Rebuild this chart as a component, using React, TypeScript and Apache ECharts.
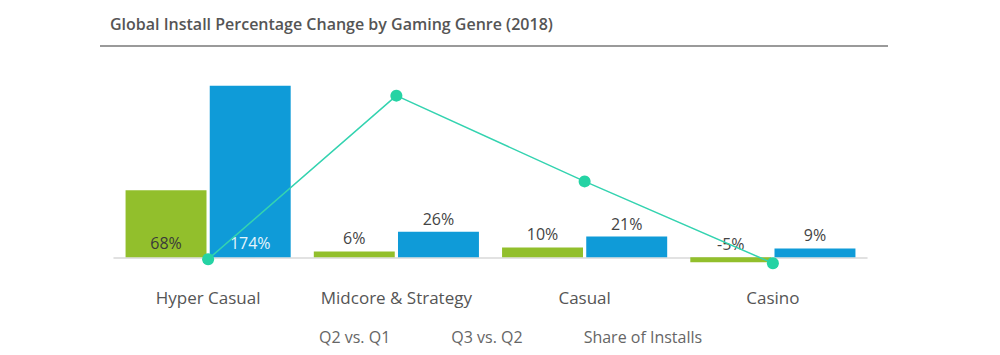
import React, { useEffect, useRef } from "react";
import * as echarts from "echarts";

const categories = ["Hyper Casual", "Midcore & Strategy", "Casual", "Casino"];
const q2VsQ1 = [68, 6, 10, -5];
const q3VsQ2 = [174, 26, 21, 9];
const shareOfInstalls = [-2, 164, 77, -6];
const seriesNames = ["Q2 vs. Q1", "Q3 vs. Q2", "Share of Installs"];
const titleText = "Global Install Percentage Change by Gaming Genre (2018)";

export default function App() {
  const ref = useRef<HTMLDivElement>(null);
  useEffect(() => {
    if (!ref.current) return;
    const chart = echarts.init(ref.current, undefined, { renderer: "svg" });
    const font = "'Open Sans', 'Noto Sans', sans-serif";
    const labelStyle = { fontFamily: font, fontSize: 16, color: "#444" };
    chart.setOption({
      animation: false,
      textStyle: { fontFamily: font },
      title: {
        text: titleText,
        left: 97,
        top: 3,
        textStyle: { fontFamily: font, fontSize: 16, fontWeight: 600, color: "#555" },
      },
      graphic: [
        {
          type: "line",
          shape: { x1: 92, y1: 38, x2: 880, y2: 38 },
          style: { stroke: "#9a9a9a", lineWidth: 2 },
        },
      ],
      legend: {
        data: seriesNames.map((n) => ({ name: n, icon: "none" })),
        top: 316,
        left: 301,
        itemGap: 56,
        itemWidth: 0,
        itemHeight: 0,
        textStyle: { fontFamily: font, fontSize: 16, color: "#666" },
      },
      grid: { left: 106, right: 125, top: 64, bottom: 78 },
      xAxis: {
        type: "category",
        data: categories,
        axisLine: { onZero: true, lineStyle: { color: "#d8d8d8", width: 1.5 } },
        axisTick: { show: false },
        axisLabel: { interval: 0, margin: 12, fontFamily: font, fontSize: 17, color: "#555" },
      },
      yAxis: [
        { type: "value", min: -20, max: 188, show: false, splitLine: { show: false } },
        { type: "value", min: -20, max: 188, show: false, splitLine: { show: false } },
      ],
      series: [
        {
          name: seriesNames[0],
          type: "bar",
          data: q2VsQ1.map((v, i) =>
            i === 0
              ? { value: v, label: { position: "insideBottom", distance: 6, color: "#3a3a3a" } }
              : v
          ),
          barWidth: "43%",
          barGap: "4%",
          itemStyle: { color: "#92bf2c" },
          label: { show: true, position: "top", formatter: "{c}%", ...labelStyle },
        },
        {
          name: seriesNames[1],
          type: "bar",
          data: q3VsQ2.map((v, i) =>
            i === 0
              ? { value: v, label: { position: "insideBottom", distance: 6, color: "#e6f4fb" } }
              : v
          ),
          barWidth: "43%",
          itemStyle: { color: "#0f9bd8" },
          label: { show: true, position: "top", formatter: "{c}%", ...labelStyle },
        },
        {
          name: seriesNames[2],
          type: "line",
          yAxisIndex: 1,
          data: shareOfInstalls,
          symbol: "circle",
          symbolSize: 12,
          lineStyle: { color: "#34d3b0", width: 1.5 },
          itemStyle: { color: "#25d3a4" },
          z: 5,
        },
      ],
    });
    return () => chart.dispose();
  }, []);
  return <div ref={ref} style={{ width: 984, height: 347 }} />;
}
